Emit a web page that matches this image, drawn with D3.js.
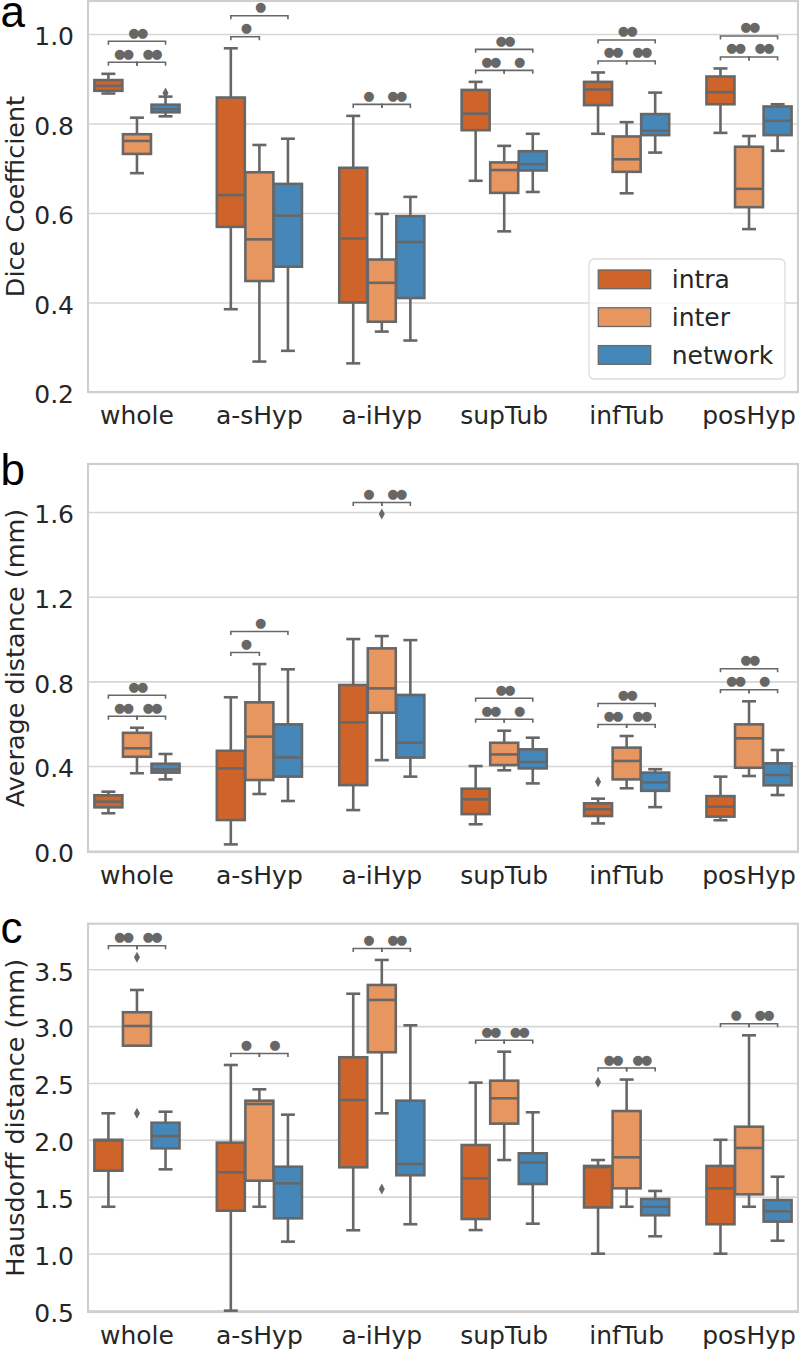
<!DOCTYPE html>
<html>
<head>
<meta charset="utf-8">
<script src="https://cdn.jsdelivr.net/npm/d3@7"></script>
<style>
  html, body { margin: 0; padding: 0; background: #ffffff; }
  svg { display: block; }
</style>
</head>
<body>
<script>
// ---------------- DATA ----------------
const categories = ["whole", "a-sHyp", "a-iHyp", "supTub", "infTub", "posHyp"];
const groups = ["intra", "inter", "network"];
const groupColors = ["#ce6429", "#e8965f", "#4687b9"];

// box stats per category: [whiskerLow, q1, median, q3, whiskerHigh]
const diceIntra = [
  [0.867, 0.873, 0.884, 0.897, 0.911],
  [0.385, 0.569, 0.640, 0.858, 0.968],
  [0.264, 0.400, 0.543, 0.701, 0.817],
  [0.672, 0.785, 0.822, 0.875, 0.893],
  [0.777, 0.841, 0.876, 0.893, 0.914],
  [0.779, 0.843, 0.870, 0.905, 0.923]
];
const diceInter = [
  [0.689, 0.732, 0.761, 0.776, 0.813],
  [0.268, 0.448, 0.541, 0.691, 0.752],
  [0.335, 0.357, 0.444, 0.496, 0.598],
  [0.559, 0.645, 0.696, 0.713, 0.750],
  [0.644, 0.692, 0.720, 0.771, 0.803],
  [0.564, 0.613, 0.654, 0.748, 0.772]
];
const diceNetwork = [
  [0.816, 0.825, 0.832, 0.842, 0.860],
  [0.292, 0.480, 0.594, 0.665, 0.766],
  [0.315, 0.410, 0.535, 0.593, 0.636],
  [0.647, 0.695, 0.709, 0.738, 0.777],
  [0.735, 0.774, 0.784, 0.821, 0.869],
  [0.739, 0.774, 0.806, 0.838, 0.843]
];
const diceOutliers = [
  { cat: "whole", group: "network", value: 0.868 }
];

const avgIntra = [
  [0.177, 0.205, 0.232, 0.262, 0.279],
  [0.030, 0.145, 0.389, 0.472, 0.725],
  [0.192, 0.310, 0.607, 0.783, 1.000],
  [0.125, 0.173, 0.243, 0.293, 0.400],
  [0.129, 0.164, 0.196, 0.224, 0.246],
  [0.144, 0.161, 0.208, 0.258, 0.350]
];
const avgInter = [
  [0.366, 0.444, 0.484, 0.557, 0.581],
  [0.268, 0.334, 0.539, 0.701, 0.882],
  [0.428, 0.652, 0.767, 0.956, 1.014],
  [0.380, 0.405, 0.455, 0.510, 0.567],
  [0.295, 0.337, 0.424, 0.487, 0.542],
  [0.353, 0.392, 0.531, 0.597, 0.706]
];
const avgNetwork = [
  [0.337, 0.369, 0.384, 0.411, 0.457],
  [0.235, 0.350, 0.441, 0.597, 0.857],
  [0.350, 0.440, 0.510, 0.736, 0.995],
  [0.318, 0.389, 0.419, 0.479, 0.534],
  [0.206, 0.283, 0.323, 0.369, 0.385],
  [0.263, 0.309, 0.358, 0.413, 0.476]
];
const avgOutliers = [
  { cat: "a-iHyp", group: "inter", value: 1.591 },
  { cat: "infTub", group: "intra", value: 0.326 }
];

const hausIntra = [
  [1.411, 1.728, 1.995, 2.000, 2.233],
  [0.497, 1.376, 1.714, 1.975, 2.658],
  [1.204, 1.758, 2.350, 2.726, 3.285],
  [1.206, 1.303, 1.661, 1.954, 2.503],
  [0.998, 1.405, 1.760, 1.770, 1.822],
  [0.998, 1.257, 1.573, 1.770, 2.000]
];
const hausInter = [
  [2.828, 2.828, 3.001, 3.122, 3.318],
  [1.411, 1.640, 2.315, 2.344, 2.444],
  [2.233, 2.770, 3.230, 3.362, 3.582],
  [1.822, 2.142, 2.365, 2.520, 2.775],
  [1.411, 1.573, 1.846, 2.253, 2.530],
  [1.411, 1.520, 1.928, 2.115, 2.919]
];
const hausNetwork = [
  [1.740, 1.925, 2.033, 2.150, 2.247],
  [1.104, 1.309, 1.617, 1.763, 2.221],
  [1.257, 1.688, 1.787, 2.344, 3.007],
  [1.262, 1.611, 1.799, 1.881, 2.242],
  [1.151, 1.336, 1.411, 1.479, 1.550],
  [1.112, 1.280, 1.371, 1.470, 1.675]
];
const hausOutliers = [
  { cat: "whole", group: "inter", value: 3.606 },
  { cat: "whole", group: "inter", value: 2.233 },
  { cat: "a-iHyp", group: "inter", value: 1.567 },
  { cat: "infTub", group: "intra", value: 2.506 }
];

// significance annotations: [category, groupA, groupB, level, label]
const diceSig = [
  ["whole", "intra", "inter", 0, "●●"], ["whole", "inter", "network", 0, "●●"], ["whole", "intra", "network", 1, "●●"],
  ["a-sHyp", "intra", "inter", 0, "●"], ["a-sHyp", "intra", "network", 1, "●"],
  ["a-iHyp", "intra", "inter", 0, "●"], ["a-iHyp", "inter", "network", 0, "●●"],
  ["supTub", "intra", "inter", 0, "●●"], ["supTub", "inter", "network", 0, "●"], ["supTub", "intra", "network", 1, "●●"],
  ["infTub", "intra", "inter", 0, "●●"], ["infTub", "inter", "network", 0, "●●"], ["infTub", "intra", "network", 1, "●●"],
  ["posHyp", "intra", "inter", 0, "●●"], ["posHyp", "inter", "network", 0, "●●"], ["posHyp", "intra", "network", 1, "●●"]
];
const avgSig = [
  ["whole", "intra", "inter", 0, "●●"], ["whole", "inter", "network", 0, "●●"], ["whole", "intra", "network", 1, "●●"],
  ["a-sHyp", "intra", "inter", 0, "●"], ["a-sHyp", "intra", "network", 1, "●"],
  ["a-iHyp", "intra", "inter", 0, "●"], ["a-iHyp", "inter", "network", 0, "●●"],
  ["supTub", "intra", "inter", 0, "●●"], ["supTub", "inter", "network", 0, "●"], ["supTub", "intra", "network", 1, "●●"],
  ["infTub", "intra", "inter", 0, "●●"], ["infTub", "inter", "network", 0, "●●"], ["infTub", "intra", "network", 1, "●●"],
  ["posHyp", "intra", "inter", 0, "●●"], ["posHyp", "inter", "network", 0, "●"], ["posHyp", "intra", "network", 1, "●●"]
];
const hausSig = [
  ["whole", "intra", "inter", 0, "●●"], ["whole", "inter", "network", 0, "●●"],
  ["a-sHyp", "intra", "inter", 0, "●"], ["a-sHyp", "inter", "network", 0, "●"],
  ["a-iHyp", "intra", "inter", 0, "●"], ["a-iHyp", "inter", "network", 0, "●●"],
  ["supTub", "intra", "inter", 0, "●●"], ["supTub", "inter", "network", 0, "●●"],
  ["infTub", "intra", "inter", 0, "●●"], ["infTub", "inter", "network", 0, "●●"],
  ["posHyp", "intra", "inter", 0, "●"], ["posHyp", "inter", "network", 0, "●●"]
];

const diceTicks = [0.2, 0.4, 0.6, 0.8, 1.0];
const avgTicks = [0.0, 0.4, 0.8, 1.2, 1.6];
const hausTicks = [0.5, 1.0, 1.5, 2.0, 2.5, 3.0, 3.5];

// ---------------- LAYOUT ----------------
const W = 799, H = 1350;
const left = 88, right = 798;
const GRAY = "#676767";
const TEXT = "#262626";
const FONT = "DejaVu Sans, sans-serif";

const svg = d3.select("body").append("svg").attr("width", W).attr("height", H);

// category scale: span -0.4 .. 5.4 in category units
const unit = (right - left) / 5.8;
const xCat = d3.scaleBand().domain(categories)
  .range([left - 0.1 * unit, right + 0.1 * unit]).paddingInner(0).paddingOuter(0);
const xGroup = d3.scaleBand().domain(groups).range([-0.35 * unit, 0.35 * unit]);
const boxW = xGroup.bandwidth() * 0.98;
const color = d3.scaleOrdinal().domain(groups).range(groupColors);
const cx = (cat, g) => xCat(cat) + xCat.bandwidth() / 2 + xGroup(g) + xGroup.bandwidth() / 2;

const panels = [
  { letter: "a", label: "Dice Coefficient", top: 1, bottom: 392, domain: [0.2, 1.0737],
    ticks: diceTicks, series: [diceIntra, diceInter, diceNetwork], outliers: diceOutliers, sig: diceSig, legend: true },
  { letter: "b", label: "Average distance (mm)", top: 464, bottom: 852, domain: [-0.006, 1.827],
    ticks: avgTicks, series: [avgIntra, avgInter, avgNetwork], outliers: avgOutliers, sig: avgSig },
  { letter: "c", label: "Hausdorff distance (mm)", top: 923.7, bottom: 1312, domain: [0.485, 3.901],
    ticks: hausTicks, series: [hausIntra, hausInter, hausNetwork], outliers: hausOutliers, sig: hausSig }
];

const letterBase = { a: 26.7, b: 485, c: 943 };
const DOT_FS = 13;

panels.forEach(p => {
  const y = d3.scaleLinear().domain(p.domain).range([p.bottom, p.top]);
  const g = svg.append("g");

  // grid
  const yAxis = d3.axisLeft(y).tickValues(p.ticks).tickFormat(d3.format(".1f"))
    .tickSize(-(right - left)).tickPadding(14);
  const ax = g.append("g").attr("transform", `translate(${left},0)`).call(yAxis);
  ax.select(".domain").remove();
  ax.selectAll(".tick line").attr("stroke", "#d6d6d6").attr("stroke-width", 1.6);
  ax.selectAll(".tick text").attr("fill", TEXT).attr("font-family", FONT).attr("font-size", 25)
    .attr("dy", "0.43em");

  // frame
  g.append("rect").attr("x", left).attr("y", p.top).attr("width", right - left)
    .attr("height", p.bottom - p.top).attr("fill", "none").attr("stroke", "#cfcfcf").attr("stroke-width", 2.2);

  // x axis labels
  const xAxis = d3.axisBottom(xCat).tickSize(0).tickPadding(0);
  const xa = g.append("g").attr("transform", `translate(0,${p.bottom})`).call(xAxis);
  xa.select(".domain").remove();
  xa.selectAll(".tick text").attr("fill", TEXT).attr("font-family", FONT).attr("font-size", 25)
    .attr("dy", null).attr("y", 32);

  // y label
  g.append("text").attr("transform", `translate(24,${(p.top + p.bottom) / 2}) rotate(-90)`)
    .attr("text-anchor", "middle").attr("fill", TEXT).attr("font-family", FONT).attr("font-size", 25.5)
    .text(p.label);

  // panel letter
  g.append("text").attr("x", 0.5).attr("y", letterBase[p.letter]).attr("fill", "#000")
    .attr("font-family", "Liberation Sans, Arial, sans-serif").attr("font-size", 44).text(p.letter);

  // boxes
  const boxes = [];
  groups.forEach((grp, gi) => {
    p.series[gi].forEach((s, ci) => boxes.push({ cat: categories[ci], grp, s }));
  });
  const bg = g.append("g");
  boxes.forEach(b => {
    const xc = cx(b.cat, b.grp);
    const [lo, q1, med, q3, hi] = b.s;
    const bgx = bg.append("g").attr("stroke", GRAY).attr("stroke-width", 2.6);
    bgx.append("line").attr("x1", xc).attr("x2", xc).attr("y1", y(q1)).attr("y2", y(lo));
    bgx.append("line").attr("x1", xc).attr("x2", xc).attr("y1", y(q3)).attr("y2", y(hi));
    bgx.append("line").attr("x1", xc - boxW / 4).attr("x2", xc + boxW / 4).attr("y1", y(lo)).attr("y2", y(lo));
    bgx.append("line").attr("x1", xc - boxW / 4).attr("x2", xc + boxW / 4).attr("y1", y(hi)).attr("y2", y(hi));
    bgx.append("rect").attr("x", xc - boxW / 2).attr("width", boxW)
      .attr("y", y(q3)).attr("height", Math.max(0.5, y(q1) - y(q3))).attr("fill", color(b.grp));
    bgx.append("line").attr("x1", xc - boxW / 2).attr("x2", xc + boxW / 2).attr("y1", y(med)).attr("y2", y(med));
  });

  // outliers (thin diamonds)
  g.append("g").selectAll("path").data(p.outliers).join("path")
    .attr("d", d => {
      const x0 = cx(d.cat, d.group), y0 = y(d.value);
      return `M${x0},${y0 - 5.5}L${x0 + 3},${y0}L${x0},${y0 + 5.5}L${x0 - 3},${y0}Z`;
    })
    .attr("fill", GRAY);

  // significance brackets
  const topOf = cat => {
    const ci = categories.indexOf(cat);
    let m = d3.max(p.series, s => s[ci][4]);
    p.outliers.filter(o => o.cat === cat).forEach(o => { m = Math.max(m, o.value); });
    return y(m);
  };
  const sg = g.append("g");
  p.sig.forEach(([cat, a, b, level, label]) => {
    const x1 = cx(cat, a), x2 = cx(cat, b);
    const ly = topOf(cat) - 11.5 - level * 21;
    sg.append("path").attr("d", `M${x1},${ly + 3.5}V${ly}H${x2}V${ly + 3.5}`)
      .attr("fill", "none").attr("stroke", GRAY).attr("stroke-width", 1.6);
    sg.append("text").attr("x", (x1 + x2) / 2).attr("y", ly - 4.5).attr("text-anchor", "middle")
      .attr("fill", GRAY).attr("font-family", FONT).attr("font-size", DOT_FS).attr("letter-spacing", -2.6)
      .text(label);
  });

  // legend
  if (p.legend) {
    const lg = g.append("g");
    lg.append("rect").attr("x", 589).attr("y", 259).attr("width", 196).attr("height", 120).attr("rx", 5)
      .attr("fill", "#ffffff").attr("fill-opacity", 0.8).attr("stroke", "#dcdcdc").attr("stroke-width", 1.3);
    groups.forEach((grp, i) => {
      const yy = 270 + i * 37.8;
      lg.append("rect").attr("x", 598.3).attr("y", yy).attr("width", 52.4).attr("height", 18.7)
        .attr("fill", color(grp)).attr("stroke", GRAY).attr("stroke-width", 1.3);
      lg.append("text").attr("x", 671.7).attr("y", yy + 18.3).attr("fill", TEXT)
        .attr("font-family", FONT).attr("font-size", 25).text(grp);
    });
  }
});
</script>
</body>
</html>
